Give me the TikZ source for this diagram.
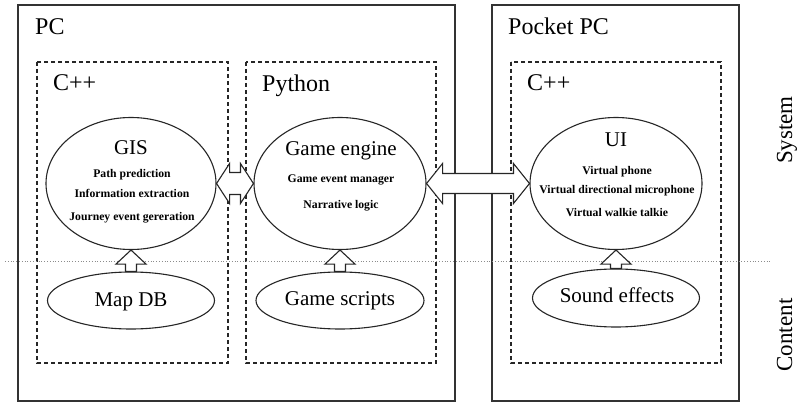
\documentclass[tikz,border=0pt]{standalone}
\usepackage{fontspec}
\setmainfont{Liberation Serif}
\usetikzlibrary{calc,shapes.geometric}

% Block arrows built from the anchors of two nodes.
% \dblarrowblk{left}{right}{head length}{half shaft}{half head}
\newcommand\dblarrowblk[5]{%
  \draw[blk] (#1) -- ($(#1)+(#3,-#5)$) -- ($(#1)+(#3,-#4)$) -- ($(#2)+(-#3,-#4)$)
    -- ($(#2)+(-#3,-#5)$) -- (#2) -- ($(#2)+(-#3,#5)$) -- ($(#2)+(-#3,#4)$)
    -- ($(#1)+(#3,#4)$) -- ($(#1)+(#3,#5)$) -- cycle;}
% \uparrowblk{tip}{tail}
\newcommand\uparrowblk[2]{%
  \draw[blk] (#1) -- ++(15,14) -- ++(-9.5,0) -- ($(#2)+(5.5,0)$) -- ($(#2)+(-5.5,0)$)
    -- ($(#1)+(-5.5,14)$) -- ++(-9.5,0) -- cycle;}

\tikzset{
  box/.style={draw=black!80, line width=1.3pt},
  langbox/.style={draw=black!85, line width=1.1pt, dash pattern=on 4pt off 3pt},
  module/.style={ellipse, draw=black!85, line width=1.1pt, fill=white, inner sep=0pt},
  blk/.style={draw=black!85, line width=1.1pt, fill=white, line join=miter},
  lbl/.style={anchor=base west, inner sep=0pt, font=\fontsize{24}{28}\selectfont},
  ttl/.style={anchor=base, inner sep=0pt, font=\fontsize{21}{24}\selectfont},
  itm/.style={anchor=base, inner sep=0pt, font=\bfseries\fontsize{11.7}{14}\selectfont},
  side/.style={rotate=90, anchor=base, inner sep=0pt, font=\fontsize{23}{26}\selectfont},
  layer/.style={draw=black!45, line width=0.8pt, dotted},
}

\begin{document}
\begin{tikzpicture}[x=1pt, y=-1pt]
  \useasboundingbox[fill=white] (0,0) rectangle (797,403);

  % machines
  \draw[box] (18,5) rectangle (455,401);
  \draw[box] (492,5) rectangle (739,401);
  \node[lbl] (pc) at (35,35) {PC};
  \node[lbl] (ppc) at (508,35) {Pocket PC};

  % languages
  \draw[langbox] (37,62) rectangle (228,363);
  \draw[langbox] (246,62) rectangle (436,363);
  \draw[langbox] (511,62) rectangle (721,363);
  \node[lbl] (cpp1) at (53,91) {C++};
  \node[lbl] (py) at (262,92) {Python};
  \node[lbl] (cpp2) at (527,91) {C++};

  % system / content separation
  \draw[layer] (5,261) -- (772,261);
  \node[side] (sys) at (792,130) {System};
  \node[side] (cont) at (792,335) {Content};

  % system modules
  \node[module, minimum width=170pt, minimum height=132pt] (gis) at (131,183.5) {};
  \node[module, minimum width=172pt, minimum height=132pt] (eng) at (340,183.5) {};
  \node[module, minimum width=172pt, minimum height=132pt] (ui) at (616,183.5) {};

  \node[ttl] (gist) at (131,155) {GIS};
  \node[itm] (gis1) at (132,178) {Path prediction};
  \node[itm] (gis2) at (132,198) {Information extraction};
  \node[itm] (gis3) at (132,221) {Journey event gereration};

  \node[ttl] (engt) at (341,156) {Game engine};
  \node[itm] (eng1) at (341,183) {Game event manager};
  \node[itm] (eng2) at (341,209) {Narrative logic};

  \node[ttl] (uit) at (616,147) {UI};
  \node[itm] (ui1) at (617,175) {Virtual phone};
  \node[itm] (ui2) at (617,194) {Virtual directional microphone};
  \node[itm] (ui3) at (617,217) {Virtual walkie talkie};

  % content modules
  \node[module, minimum width=167pt, minimum height=57pt] (map) at (131,300.5) {};
  \node[module, minimum width=168pt, minimum height=57pt] (scr) at (340,300.5) {};
  \node[module, minimum width=167pt, minimum height=58pt] (snd) at (616,298) {};
  \node[ttl] (mapt) at (131,306) {Map DB};
  \node[ttl] (scrt) at (340,305) {Game scripts};
  \node[ttl] (sndt) at (617,302) {Sound effects};

  % data flow
  \dblarrowblk{gis.east}{eng.west}{13}{11}{20}
  \dblarrowblk{eng.east}{ui.west}{16}{10}{20}
  \uparrowblk{gis.south}{map.north}
  \uparrowblk{eng.south}{scr.north}
  \uparrowblk{ui.south}{snd.north}
\end{tikzpicture}
\end{document}
